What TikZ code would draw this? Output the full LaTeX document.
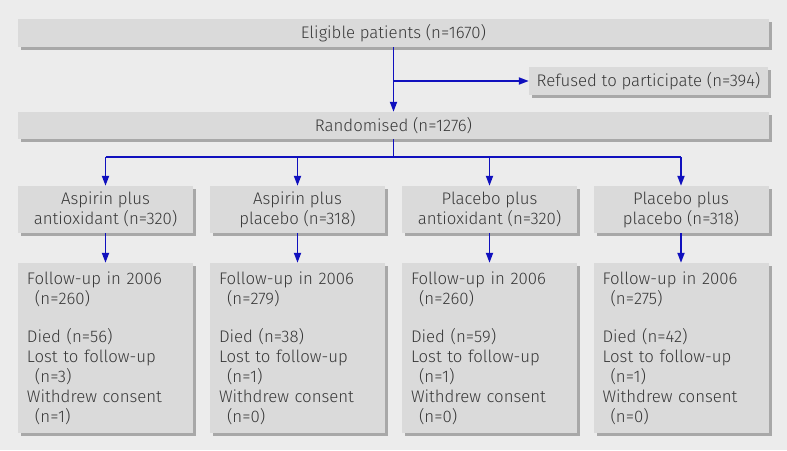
\documentclass[tikz,border=0pt]{standalone}
\usepackage{fontspec}
\setmainfont{Fira Sans Light}
\usetikzlibrary{arrows.meta,shadows}
\definecolor{bgcol}{HTML}{ECECEC}
\definecolor{boxcol}{HTML}{DADADA}
\definecolor{shadcol}{HTML}{A8A8A8}
\definecolor{arrcol}{RGB}{16,16,190}
\definecolor{txtcol}{HTML}{383838}
\begin{document}
\begin{tikzpicture}[x=1pt,y=-1pt,
  box/.style={fill=boxcol, draw=none, text=txtcol, inner sep=0pt,
    font=\fontsize{16.8}{20}\selectfont,
    drop shadow={shadow xshift=3pt, shadow yshift=-3pt, fill=shadcol, opacity=1}},
  grp/.style={box, minimum width=175pt, minimum height=47pt, align=center},
  fol/.style={box, minimum width=175pt, minimum height=170pt, text width=157pt, align=left},
  conn/.style={draw=arrcol, line width=1.8pt},
  arr/.style={conn, -{Triangle[length=10pt,width=7pt]}}]
\fill[bgcol] (0,0) rectangle (787,450);
\node[box, minimum width=751pt, minimum height=28pt] (elig) at (393.5,33) {Eligible patients (n=1670)};
\node[box, minimum width=239pt, minimum height=28pt] (ref) at (648.5,81) {Refused to participate (n=394)};
\node[box, minimum width=751pt, minimum height=27pt] (rand) at (393.5,125.5) {Randomised (n=1276)};
\node[grp] (g1) at (105.5,209.5) {Aspirin plus\\antioxidant (n=320)};
\node[grp] (g2) at (297.5,209.5) {Aspirin plus\\placebo (n=318)};
\node[grp] (g3) at (489.5,209.5) {Placebo plus\\antioxidant (n=320)};
\node[grp] (g4) at (681,209.5) {Placebo plus\\placebo (n=318)};
\node[fol] (f1) at (105.5,348) {Follow-up in 2006\\\hspace*{8pt}(n=260)\\[18pt]Died (n=56)\\Lost to follow-up\\\hspace*{8pt}(n=3)\\Withdrew consent\\\hspace*{8pt}(n=1)};
\node[fol] (f2) at (297.5,348) {Follow-up in 2006\\\hspace*{8pt}(n=279)\\[18pt]Died (n=38)\\Lost to follow-up\\\hspace*{8pt}(n=1)\\Withdrew consent\\\hspace*{8pt}(n=0)};
\node[fol] (f3) at (489.5,348) {Follow-up in 2006\\\hspace*{8pt}(n=260)\\[18pt]Died (n=59)\\Lost to follow-up\\\hspace*{8pt}(n=1)\\Withdrew consent\\\hspace*{8pt}(n=0)};
\node[fol] (f4) at (681,348) {Follow-up in 2006\\\hspace*{8pt}(n=275)\\[18pt]Died (n=42)\\Lost to follow-up\\\hspace*{8pt}(n=1)\\Withdrew consent\\\hspace*{8pt}(n=0)};
\coordinate (br) at (393.5,157);
\draw[arr] (elig.south) -- (rand.north);
\draw[arr] (elig.south |- ref.west) -- (ref.west);
\draw[conn] (rand.south) -- (br);
\draw[conn] (g1.north |- br) -- (g4.north |- br);
\foreach \g in {g1,g2,g3,g4} {\draw[arr] (\g.north |- br) -- (\g.north);}
\draw[arr] (g1.south) -- (f1.north);
\draw[arr] (g2.south) -- (f2.north);
\draw[arr] (g3.south) -- (f3.north);
\draw[arr] (g4.south) -- (f4.north);
\end{tikzpicture}
\end{document}
